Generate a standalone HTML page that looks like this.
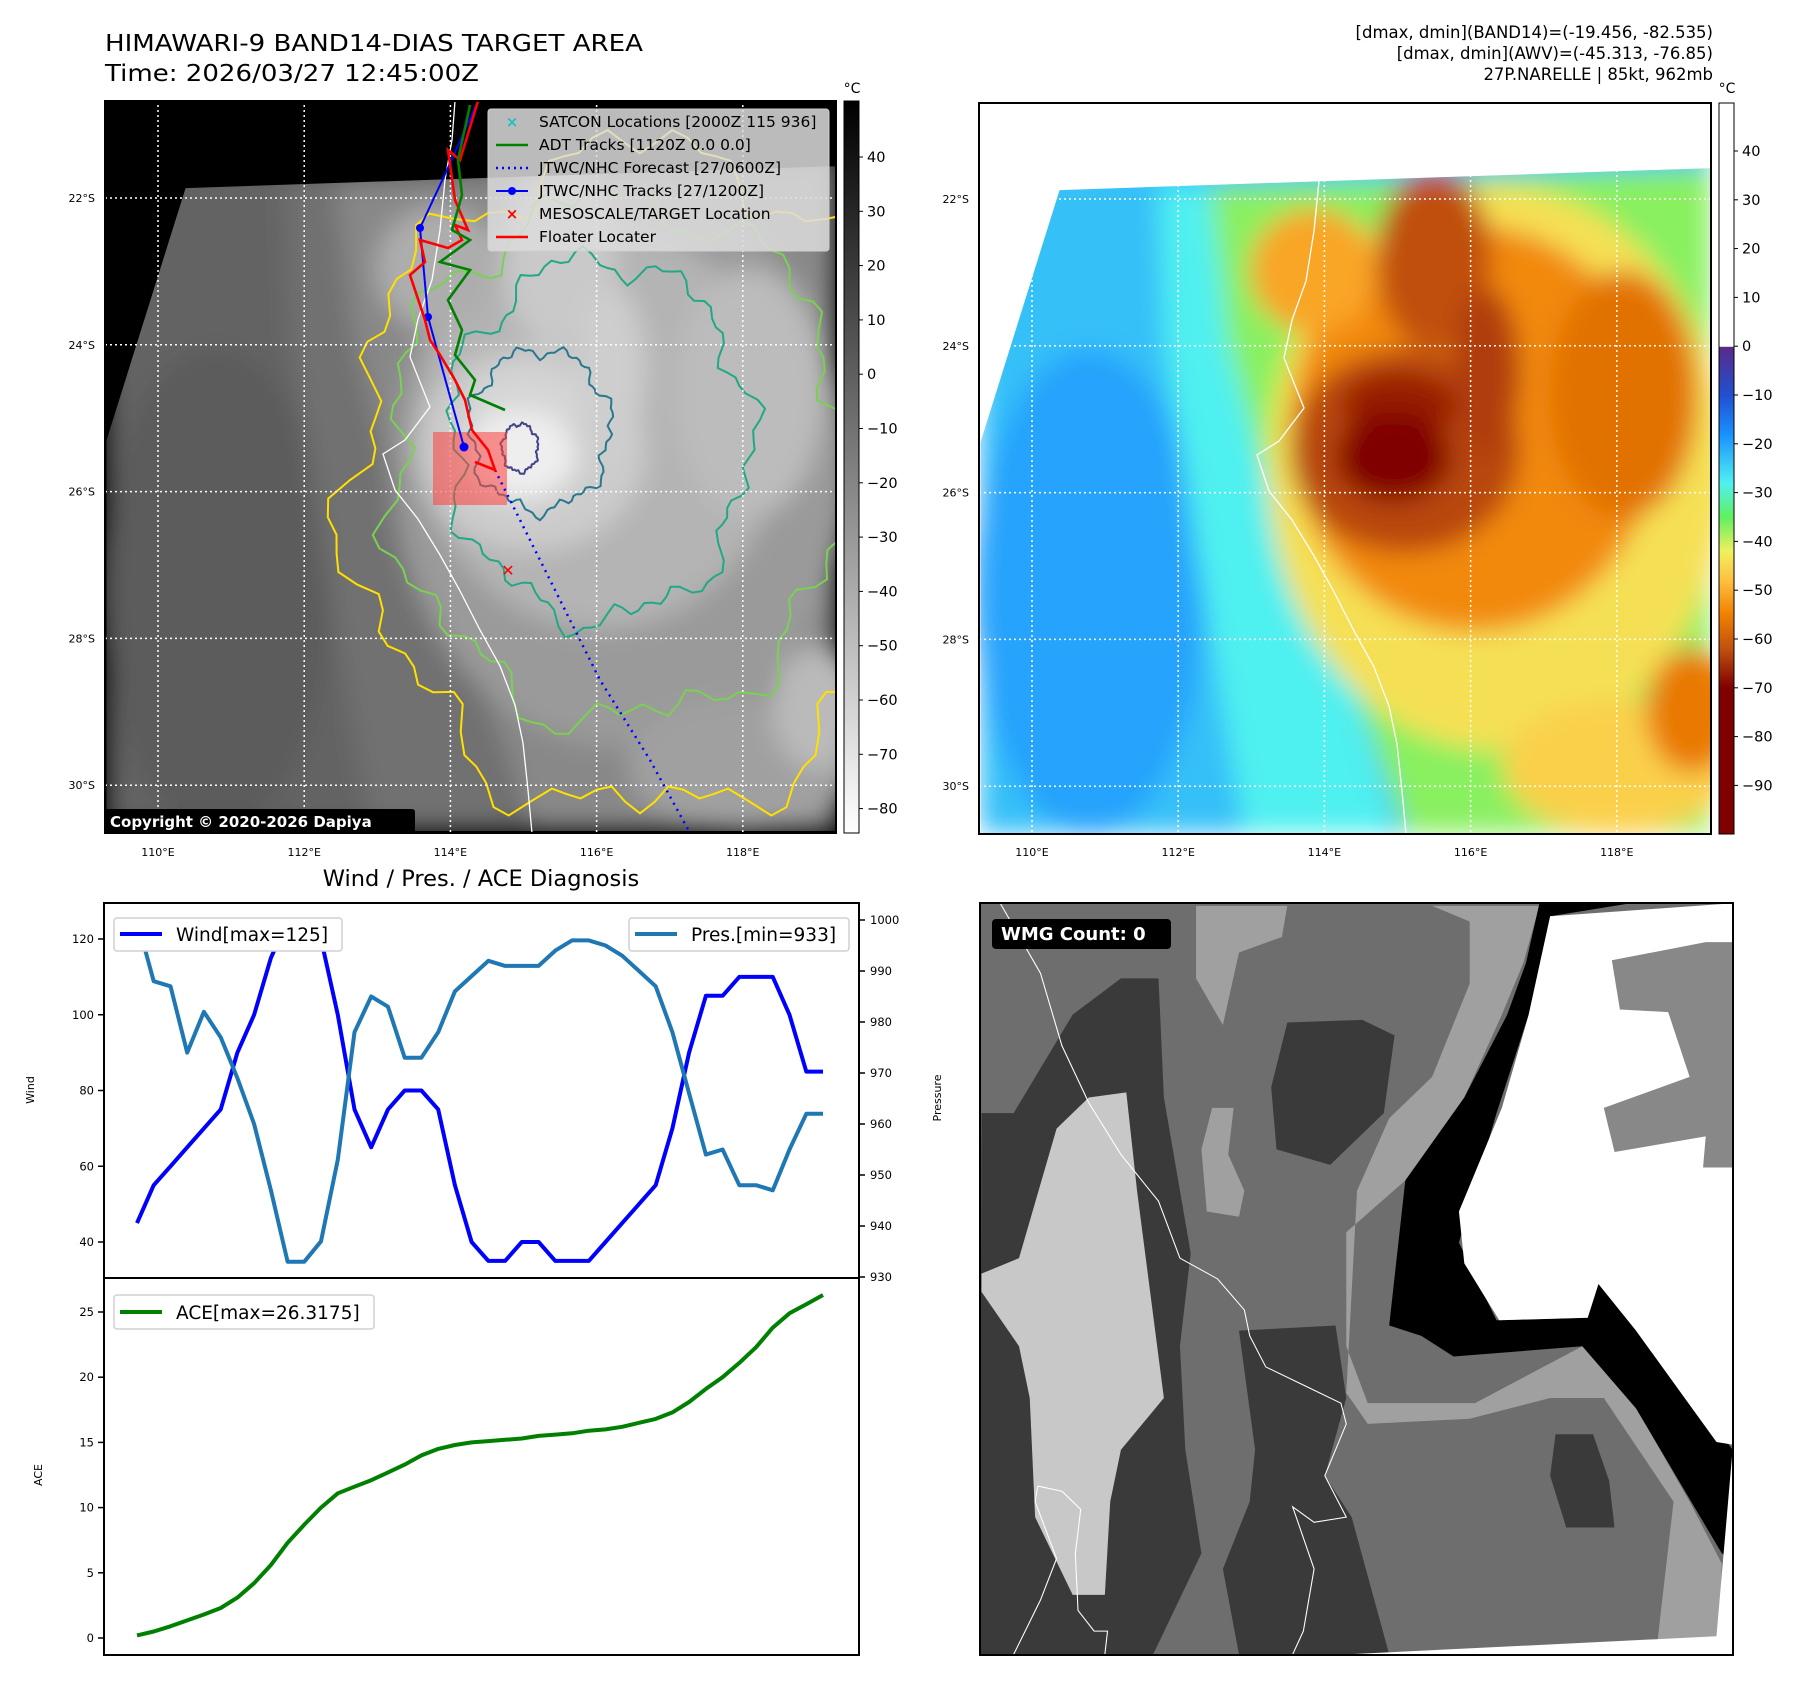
<!DOCTYPE html>
<html><head><meta charset="utf-8"><title>HIMAWARI-9 BAND14 DIAS</title>
<style>
html,body{margin:0;padding:0;background:#fff;}
svg{display:block;font-family:"DejaVu Sans","Liberation Sans",sans-serif;}
</style></head>
<body>
<svg id="fig" width="1797" height="1690" viewBox="0 0 1797 1690" xmlns="http://www.w3.org/2000/svg">
<defs>
  <filter id="blur" x="-20%" y="-20%" width="140%" height="140%"><feGaussianBlur stdDeviation="22"/></filter>
  <clipPath id="clipL"><rect x="105" y="101" width="731" height="732"/></clipPath>
  <clipPath id="clipR"><rect x="979" y="103" width="732" height="731"/></clipPath>
  <clipPath id="clipBR"><rect x="980" y="903" width="753" height="752"/></clipPath>
  <clipPath id="dataPoly"><polygon points="278,337 1412,298 1412,1477 140,1477 140,785"/></clipPath>
  <linearGradient id="cbGray" x1="0" y1="0" x2="0" y2="1"><stop offset="0" stop-color="#000"/><stop offset="1" stop-color="#fff"/></linearGradient>
  <linearGradient id="cbColor" x1="0" y1="0" x2="0" y2="1">
    <stop offset="0" stop-color="#fff"/><stop offset="0.333" stop-color="#fff"/>
    <stop offset="0.334" stop-color="#5a2a8a"/><stop offset="0.4" stop-color="#2050d0"/>
    <stop offset="0.453" stop-color="#1a90ff"/><stop offset="0.52" stop-color="#50f0f0"/>
    <stop offset="0.567" stop-color="#60f060"/><stop offset="0.613" stop-color="#f0f060"/>
    <stop offset="0.653" stop-color="#ffc040"/><stop offset="0.7" stop-color="#f08000"/>
    <stop offset="0.747" stop-color="#c05010"/><stop offset="0.8" stop-color="#800000"/>
    <stop offset="1" stop-color="#800000"/>
  </linearGradient>
</defs>

<!-- Titles -->
<text x="105" y="51" font-size="23" textLength="538" lengthAdjust="spacingAndGlyphs">HIMAWARI-9 BAND14-DIAS TARGET AREA</text>
<text x="105" y="81" font-size="23" textLength="374" lengthAdjust="spacingAndGlyphs">Time: 2026/03/27 12:45:00Z</text>
<text x="1713" y="38" font-size="16.5" text-anchor="end">[dmax, dmin](BAND14)=(-19.456, -82.535)</text>
<text x="1713" y="59" font-size="16.5" text-anchor="end">[dmax, dmin](AWV)=(-45.313, -76.85)</text>
<text x="1713" y="80" font-size="16.5" text-anchor="end">27P.NARELLE | 85kt, 962mb</text>

<!-- Left map -->
<g id="mapL">
  <rect x="105" y="101" width="731" height="732" fill="#000"/>
  <g clip-path="url(#clipL)">
    <g id="blobsL" transform="translate(26,-2) scale(0.574,0.564)"><g clip-path="url(#dataPoly)"><g id="blobsLinner" filter="url(#blur)"></g></g></g>
    <g id="contours"></g>
    <g id="gridL"></g>
    <polyline id="coastL" fill="none" stroke="#fff" stroke-width="1.3"/>
    <rect x="433" y="432" width="74" height="73" fill="#ff4040" fill-opacity="0.55"/>
    <polyline points="478,101 447,170 420,228 428,317 464,447" fill="none" stroke="#0000ff" stroke-width="2"/>
    <circle cx="420" cy="228" r="4" fill="#0000ff"/>
    <circle cx="428" cy="317" r="4" fill="#0000ff"/>
    <circle cx="464" cy="447" r="4.5" fill="#0000ff"/>
    <polyline points="495,470 540,560 600,680 650,760 690,833" fill="none" stroke="#0000ff" stroke-width="2.5" stroke-dasharray="2,5"/>
    <polyline points="478,101 460,160 448,150 455,200 468,230 455,225 462,240 448,248 420,240 425,262 410,275 425,320 430,340 440,355 455,380 465,400 472,430 488,450 495,470 475,462" fill="none" stroke="#ff0000" stroke-width="2.6"/>
    <polyline points="470,105 458,160 462,195 452,230 470,240 440,262 470,270 448,300 462,330 455,355 475,380 470,395 505,410" fill="none" stroke="#008000" stroke-width="2.6"/>
    <text x="508" y="576" font-size="16" font-weight="bold" fill="#ff0000" text-anchor="middle">✕</text>
  </g>
  <rect x="105" y="101" width="731" height="732" fill="none" stroke="#000" stroke-width="2"/>
  <!-- Legend -->
  <g>
    <rect x="488" y="109" width="341" height="142" rx="3" fill="#dcdcdc" fill-opacity="0.85" stroke="#cfcfcf"/>
    <text x="512" y="127" font-size="15" fill="#20c0c0" text-anchor="middle" font-weight="bold">×</text>
    <text x="539" y="127" font-size="15.5">SATCON Locations [2000Z 115 936]</text>
    <line x1="496" y1="145" x2="528" y2="145" stroke="#008000" stroke-width="2.5"/>
    <text x="539" y="150" font-size="15.5">ADT Tracks [1120Z 0.0 0.0]</text>
    <line x1="496" y1="168" x2="528" y2="168" stroke="#0000ff" stroke-width="2.5" stroke-dasharray="2,4"/>
    <text x="539" y="173" font-size="15.5">JTWC/NHC Forecast [27/0600Z]</text>
    <line x1="496" y1="191" x2="528" y2="191" stroke="#0000ff" stroke-width="2"/>
    <circle cx="512" cy="191" r="4" fill="#0000ff"/>
    <text x="539" y="196" font-size="15.5">JTWC/NHC Tracks [27/1200Z]</text>
    <text x="512" y="219" font-size="15" fill="#ff0000" text-anchor="middle" font-weight="bold">×</text>
    <text x="539" y="219" font-size="15.5">MESOSCALE/TARGET Location</text>
    <line x1="496" y1="237" x2="528" y2="237" stroke="#ff0000" stroke-width="2.5"/>
    <text x="539" y="242" font-size="15.5">Floater Locater</text>
  </g>
  <rect x="105" y="809" width="310" height="24" rx="3" fill="#000"/>
  <text x="110" y="827" font-size="15" font-weight="bold" fill="#fff">Copyright © 2020-2026 Dapiya</text>
  <g id="axLabL"></g>
</g>
<rect x="844" y="101" width="15" height="732" fill="url(#cbGray)" stroke="#000" stroke-width="1"/>
<text x="852" y="93" font-size="14" text-anchor="middle">°C</text>
<g id="cbTicksL"></g>

<!-- Right map -->
<g id="mapR">
  <rect x="979" y="103" width="732" height="731" fill="#fff"/>
  <g clip-path="url(#clipR)">
    <g id="blobsR" transform="translate(900,0) scale(0.574,0.564)"><g clip-path="url(#dataPoly)"><g id="blobsRinner" filter="url(#blur)"></g></g></g>
    <g id="gridR"></g>
    <polyline id="coastR" fill="none" stroke="#fff" stroke-width="1.3"/>
  </g>
  <rect x="979" y="103" width="732" height="731" fill="none" stroke="#000" stroke-width="2"/>
  <g id="axLabR"></g>
</g>
<rect x="1719" y="103" width="15" height="731" fill="url(#cbColor)" stroke="#000" stroke-width="1"/>
<text x="1727" y="93" font-size="14" text-anchor="middle">°C</text>
<g id="cbTicksR"></g>

<!-- Diagnosis chart -->
<text x="481" y="886" font-size="22.5" text-anchor="middle">Wind / Pres. / ACE Diagnosis</text>
<g id="chart">
  <rect x="104" y="903" width="755" height="375" fill="#fff" stroke="#000" stroke-width="2"/>
  <rect x="104" y="1278" width="755" height="377" fill="#fff" stroke="#000" stroke-width="2"/>
  <g id="series"></g>
  <g id="ticks"></g>
  <text transform="translate(34,1090) rotate(-90)" font-size="11" text-anchor="middle">Wind</text>
  <text transform="translate(941,1098) rotate(-90)" font-size="11" text-anchor="middle">Pressure</text>
  <text transform="translate(42,1475) rotate(-90)" font-size="11" text-anchor="middle">ACE</text>
  <rect x="114" y="918" width="228" height="33" rx="3" fill="#fff" stroke="#d0d0d0" stroke-width="1.5"/>
  <line x1="120" y1="934" x2="162" y2="934" stroke="#0000ff" stroke-width="4"/>
  <text x="176" y="941" font-size="18.5">Wind[max=125]</text>
  <rect x="629" y="918" width="220" height="33" rx="3" fill="#fff" stroke="#d0d0d0" stroke-width="1.5"/>
  <line x1="635" y1="934" x2="677" y2="934" stroke="#1f77b4" stroke-width="4"/>
  <text x="691" y="941" font-size="18.5">Pres.[min=933]</text>
  <rect x="114" y="1295" width="260" height="34" rx="3" fill="#fff" stroke="#d0d0d0" stroke-width="1.5"/>
  <line x1="120" y1="1312" x2="162" y2="1312" stroke="#008000" stroke-width="4"/>
  <text x="176" y="1319" font-size="18.5">ACE[max=26.3175]</text>
</g>

<!-- Bottom right WMG -->
<g id="wmg">
  <g clip-path="url(#clipBR)">
    <g transform="translate(960,880) scale(0.5365,0.518)">
      <rect x="37" y="45" width="1403" height="1450" fill="#6e6e6e"/>
      <polygon fill="#a0a0a0" points="440,50 610,50 600,110 520,140 490,280 440,190"/>
      <polygon fill="#a0a0a0" points="470,440 510,440 500,530 530,600 520,650 460,640 450,520" />
      <polygon fill="#a0a0a0" points="880,50 1080,50 1050,160 1010,260 940,420 830,580 720,680 720,900 760,1010 960,1010 1160,900 1250,1000 1360,1200 1420,1320 1415,1470 1300,1470 1330,1200 1200,1000 1100,1000 950,1040 760,1050 720,990 740,600 800,460 880,380 950,200 950,80" />
      <polygon fill="#3a3a3a" points="40,450 100,450 210,260 300,190 370,190 380,420 420,660 430,720 410,900 420,1100 450,1300 360,1495 37,1495"/>
      <polygon fill="#c8c8c8" points="240,420 310,410 330,600 380,1000 300,1100 280,1200 270,1380 210,1380 140,1230 130,1000 110,900 40,795 40,760 110,730 180,480"/>
      <polygon fill="#3a3a3a" points="520,870 700,860 720,1000 680,1150 730,1230 800,1495 520,1495 490,1330 540,1200 550,1100" />
      <polygon fill="#3a3a3a" points="610,275 750,270 810,300 790,450 690,550 590,520 580,400" />
      <polygon fill="#3a3a3a" points="1110,1070 1180,1070 1210,1160 1220,1250 1130,1250 1100,1150" />
      <polygon fill="#000" points="1080,45 1250,45 1100,70 1060,260 1000,450 930,700 1000,850 1170,845 1190,780 1220,790 1440,1100 1440,1310 1420,1300 1260,1020 1160,900 920,920 860,880 800,860 830,580 940,420 1020,260 1055,160"/>
      <polygon fill="#fff" points="1100,70 1440,45 1440,1090 1410,1085 1260,870 1190,780 1170,845 1005,850 940,740 930,640 1010,440 1060,260"/>
      <polygon fill="#888" points="1215,155 1390,120 1440,120 1440,555 1385,555 1390,495 1220,525 1200,440 1360,380 1320,255 1230,250" />
      <polygon fill="#fff" points="1440,1100 1440,1495 720,1495 1410,1460" />
      <polyline fill="none" stroke="#fff" stroke-width="2" points="75,45 150,180 190,320 240,430 300,530 370,620 410,730 480,770 530,830 540,880 570,940 650,980 710,1010 720,1050 680,1150 720,1230 660,1240 620,1210 660,1330 640,1450 620,1495"/>
      <polyline fill="none" stroke="#fff" stroke-width="2" points="145,1170 190,1180 225,1215 215,1300 220,1410 250,1450 275,1450 270,1495" />
      <polyline fill="none" stroke="#fff" stroke-width="2" points="145,1170 140,1200 180,1310 150,1390 100,1495" />
    </g>
  </g>
  <rect x="980" y="903" width="753" height="752" fill="none" stroke="#000" stroke-width="2"/>
  <rect x="992" y="919" width="179" height="30" rx="4" fill="#000"/>
  <text x="1001" y="940" font-size="18" font-weight="bold" fill="#fff">WMG Count: 0</text>
</g>
</svg>

<script>
// ---- Diagnosis chart data ----
const wind=[45,55,60,65,70,75,90,100,115,125,125,120,100,75,65,75,80,80,75,55,40,35,35,40,40,35,35,35,40,45,50,55,70,90,105,105,110,110,110,100,85,85];
const pres=[1000,988,987,974,982,977,969,960,947,933,933,937,953,978,985,983,973,973,978,986,989,992,991,991,991,994,996,996,995,993,990,987,978,966,954,955,948,948,947,955,962,962];
const ace=[0.2,0.5,0.9,1.35,1.8,2.3,3.1,4.2,5.6,7.3,8.7,10,11.1,11.6,12.1,12.7,13.3,14,14.5,14.8,15,15.1,15.2,15.3,15.5,15.6,15.7,15.9,16,16.2,16.5,16.8,17.3,18.1,19.1,20,21.1,22.3,23.8,24.9,25.6,26.3];
const windTicks=[40,60,80,100,120];
const presTicks=[930,940,950,960,970,980,990,1000];
const aceTicks=[0,5,10,15,20,25];
const grayCbTicks=[40,30,20,10,0,-10,-20,-30,-40,-50,-60,-70,-80];
const colorCbTicks=[40,30,20,10,0,-10,-20,-30,-40,-50,-60,-70,-80,-90];
const latTicks=[22,24,26,28,30];
const lonTicks=[110,112,114,116,118];

const NS="http://www.w3.org/2000/svg";
function mk(tag,parent){const e=document.createElementNS(NS,tag);parent.appendChild(e);return e;}
const X=i=>137+i*(686/(wind.length-1));
const WY=v=>939+(120-v)*3.7875;
const PY=v=>920+(1000-v)*5.1;
const AY=v=>1638-v*13.04;

const series=document.getElementById('series');
function line(arr,yf,color,name){
  const p=mk('polyline',series);
  p.setAttribute('points',arr.map((v,i)=>X(i).toFixed(1)+','+yf(v).toFixed(1)).join(' '));
  p.setAttribute('fill','none');p.setAttribute('stroke',color);p.setAttribute('stroke-width','4');
  p.setAttribute('stroke-linejoin','round');
  
  
}
line(wind,WY,'#0000ff','wind-line');
line(pres,PY,'#1f77b4','pressure-line');
line(ace,AY,'#008000','ace-line');

const ticks=document.getElementById('ticks');
function tick(x1,x2,y,label,lx,anchor,name){
  const l=mk('line',ticks);l.setAttribute('x1',x1);l.setAttribute('x2',x2);l.setAttribute('y1',y);l.setAttribute('y2',y);l.setAttribute('stroke','#000');l.setAttribute('stroke-width','1.5');
  const t=mk('text',ticks);t.setAttribute('x',lx);t.setAttribute('y',y+4);t.setAttribute('font-size','11.5');t.setAttribute('text-anchor',anchor);t.textContent=label;
  
  
}
windTicks.forEach(v=>tick(98,104,WY(v),v,94,'end','wind-tick-label'));
presTicks.forEach(v=>tick(859,865,PY(v),v,870,'start','pressure-tick-label'));
aceTicks.forEach(v=>tick(98,104,AY(v),v,94,'end','ace-tick-label'));

// colorbar ticks
function cbTicks(gid,arr,x,y0,per10,top){
  const g=document.getElementById(gid);
  arr.forEach(v=>{const y=y0+(top-v)/10*per10;
    const l=mk('line',g);l.setAttribute('x1',x);l.setAttribute('x2',x+4);l.setAttribute('y1',y);l.setAttribute('y2',y);l.setAttribute('stroke','#000');
    const t=mk('text',g);t.setAttribute('x',x+8);t.setAttribute('y',y+5);t.setAttribute('font-size','14.5');
    t.textContent=(v<0?'\u2212'+(-v):v);
    
    });
}
cbTicks('cbTicksL',grayCbTicks,859,157,54.3,40);
cbTicks('cbTicksR',colorCbTicks,1734,151,48.8,40);

// map grid + labels
function grid(gid,labId,dx,dy){
  const g=document.getElementById(gid), lab=document.getElementById(labId);
  lonTicks.forEach(lo=>{const x=158+(lo-110)*73.1+dx;
    const l=mk('line',g);l.setAttribute('x1',x);l.setAttribute('x2',x);l.setAttribute('y1',95);l.setAttribute('y2',840);
    l.setAttribute('stroke','#fff');l.setAttribute('stroke-width','1.5');l.setAttribute('stroke-dasharray','2,3');
    const t=mk('text',lab);t.setAttribute('x',x);t.setAttribute('y',856);t.setAttribute('font-size','11');t.setAttribute('text-anchor','middle');t.textContent=lo+'°E';
    
    });
  latTicks.forEach(la=>{const y=198+(la-22)*73.4+dy;
    const l=mk('line',g);l.setAttribute('x1',95+dx);l.setAttribute('x2',845+dx);l.setAttribute('y1',y);l.setAttribute('y2',y);
    l.setAttribute('stroke','#fff');l.setAttribute('stroke-width','1.5');l.setAttribute('stroke-dasharray','2,3');
    const t=mk('text',lab);t.setAttribute('x',95+dx);t.setAttribute('y',y+4);t.setAttribute('font-size','11');t.setAttribute('text-anchor','end');t.textContent=la+'°S';
    
    });
}
grid('gridL','axLabL',0,0);
grid('gridR','axLabR',874,1);

// coastline
const coast=[[455,101],[452,140],[445,180],[440,230],[432,280],[418,319],[410,357],[430,407],[405,440],[383,454],[395,490],[418,519],[440,555],[459,589],[480,630],[500,666],[515,705],[523,743],[528,790],[532,833]];
document.getElementById('coastL').setAttribute('points',coast.map(p=>p.join(',')).join(' '));
document.getElementById('coastR').setAttribute('points',coast.map(p=>(p[0]+874)+','+(p[1]+1)).join(' '));

// imagery blobs (zoom frame coords): [type, params, temp]
const blobs=[
 ['poly','140,300 1412,260 1412,1477 140,1477',-23],
 ['ell',[330,1050,200,430],-20],
 ['poly','450,330 580,330 640,800 760,1100 860,1477 600,1477 520,1000 460,600',-28],
 ['poly','540,330 1412,298 1412,1477 880,1477 770,1150 650,900 570,600',-37],
 ['ell',[1040,830,400,500],-44],
 ['ell',[1250,1360,200,120],-46],
 ['ell',[1000,760,320,360],-54],
 ['ell',[1260,700,130,220],-57],
 ['ell',[720,480,110,110],-51],
 ['ell',[880,800,200,180],-63],
 ['ell',[930,460,100,160],-62],
 ['ell',[1020,660,60,150],-64],
 ['ell',[1380,1260,80,110],-56],
 ['ell',[870,720,100,60],-67],
 ['ell',[860,810,100,80],-76]
];
const cstops=[[0,'#5a2a8a'],[-10,'#2050d0'],[-18,'#1a90ff'],[-28,'#50f0f0'],[-35,'#60f060'],[-42,'#f0f060'],[-48,'#ffc040'],[-55,'#f08000'],[-62,'#c05010'],[-70,'#800000'],[-100,'#800000']];
function hex(c){return [1,3,5].map(i=>parseInt(c.substr(i,2),16));}
function colorOf(t){
  for(let i=0;i<cstops.length-1;i++){const a=cstops[i],b=cstops[i+1];
    if(t<=a[0]&&t>=b[0]){const f=(a[0]-t)/(a[0]-b[0]);const A=hex(a[1]),B=hex(b[1]);
      return 'rgb('+A.map((v,k)=>Math.round(v+(B[k]-v)*f)).join(',')+')';}}
  return cstops[0][1];
}
function grayOf(t){const g=Math.max(0,Math.min(245,Math.round(92+(-20-t)*2.6)));return 'rgb('+g+','+g+','+g+')';}
function drawBlobs(gid,fn,prefix){
  const g=document.getElementById(gid);
  blobs.forEach(b=>{let e;
    if(b[0]==='poly'){e=mk('polygon',g);e.setAttribute('points',b[1]);}
    else{e=mk('ellipse',g);e.setAttribute('cx',b[1][0]);e.setAttribute('cy',b[1][1]);e.setAttribute('rx',b[1][2]);e.setAttribute('ry',b[1][3]);}
    e.setAttribute('fill',fn(b[2]));
    
    });
}
drawBlobs('blobsLinner',grayOf,'gray');
drawBlobs('blobsRinner',colorOf,'color');

// contours (left map)
const cont=[[640,480,290,330,'#ffe000'],[620,460,230,260,'#7ad151'],[600,440,150,180,'#22a884'],[540,430,70,80,'#2a788e'],[520,448,18,24,'#414487']];
const cg=document.getElementById('contours');
cont.forEach((c,k)=>{const pts=[];
  for(let a=0;a<360;a+=3){const r=a*Math.PI/180;const m=1+0.06*Math.sin(7*r+k)+0.04*Math.sin(13*r+2*k)+0.03*Math.sin(29*r);
    pts.push((c[0]+c[2]*m*Math.cos(r)).toFixed(1)+','+(c[1]+c[3]*m*Math.sin(r)).toFixed(1));}
  const p=mk('polygon',cg);p.setAttribute('points',pts.join(' '));p.setAttribute('fill','none');p.setAttribute('stroke',c[4]);p.setAttribute('stroke-width','2');
  
  });
</script>
</body></html>
